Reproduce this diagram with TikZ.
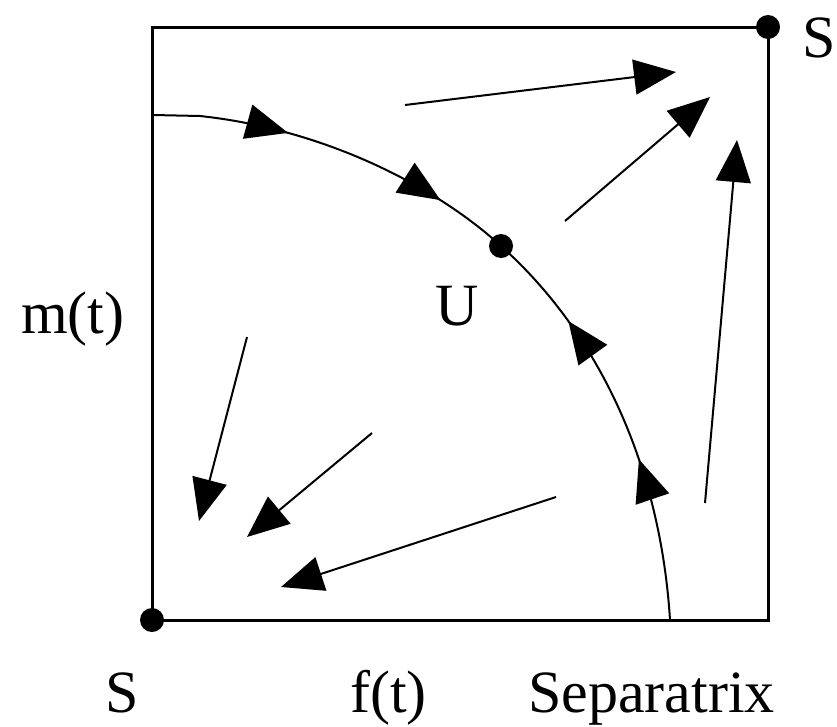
\documentclass[tikz,border=0pt]{standalone}
\usepackage{fontspec}
\setmainfont{Liberation Serif}
\usetikzlibrary{arrows.meta,decorations.markings}
\tikzset{
  lbl/.style={font=\fontsize{60}{60}\selectfont, inner sep=0pt, anchor=base west},
  pt/.style={circle, fill=black, minimum size=24pt, inner sep=0pt},
  tri/.tip={Triangle[length=42pt,width=35pt]},
  flow/.style={line width=2pt, -{tri}},
  frame/.style={line width=3pt},
  sepline/.style={line width=2pt},
  sepmark/.style 2 args={decoration={markings,
    mark=at position #1 with {\arrow{tri}},
    mark=at position #2 with {\arrow{tri}}}, postaction={decorate}}
}
\begin{document}
\begin{tikzpicture}[x=1pt,y=-1pt]
\useasboundingbox (0,0) rectangle (837,726);
\fill[white] (0,0) rectangle (837,726);
% fixed points
\node[pt] (S1) at (768,27) {};
\node[pt] (S0) at (152,620) {};
\node[pt] (U) at (501,246) {};
% frame
\draw[frame] (S0.center) rectangle (S1.center);
% separatrix
\coordinate (L) at (153,115);
\coordinate (L2) at (200,116);
\coordinate (B) at (670,620);
\draw[sepline, sepmark={0.36}{0.80}] (L) -- (L2) .. controls (330,130) and (440,190) .. (U.center);
\draw[sepline, sepmark={0.39}{0.76}] (B) .. controls (660,460) and (595,330) .. (U.center);
% flow arrows
\coordinate (a1) at (405,105); \coordinate (a2) at (676,72);
\coordinate (b1) at (565,221); \coordinate (b2) at (710,97);
\coordinate (c1) at (705,503); \coordinate (c2) at (737,140);
\coordinate (d1) at (247,337); \coordinate (d2) at (199,521);
\coordinate (e1) at (372,433); \coordinate (e2) at (247,537);
\coordinate (f1) at (556,497); \coordinate (f2) at (281,587);
\draw[flow] (a1) -- (a2);
\draw[flow] (b1) -- (b2);
\draw[flow] (c1) -- (c2);
\draw[flow] (d1) -- (d2);
\draw[flow] (e1) -- (e2);
\draw[flow] (f1) -- (f2);
% labels
\node[lbl] (tS1) at (802,57) {S};
\node[lbl] (tS0) at (105,712) {S};
\node[lbl] (tm) at (21,333) {m(t)};
\node[lbl] (tU) at (435,325) {U};
\node[lbl] (tf) at (350,712) {f(t)};
\node[lbl] (tsep) at (528,712) {Separatrix};
\end{tikzpicture}
\end{document}
